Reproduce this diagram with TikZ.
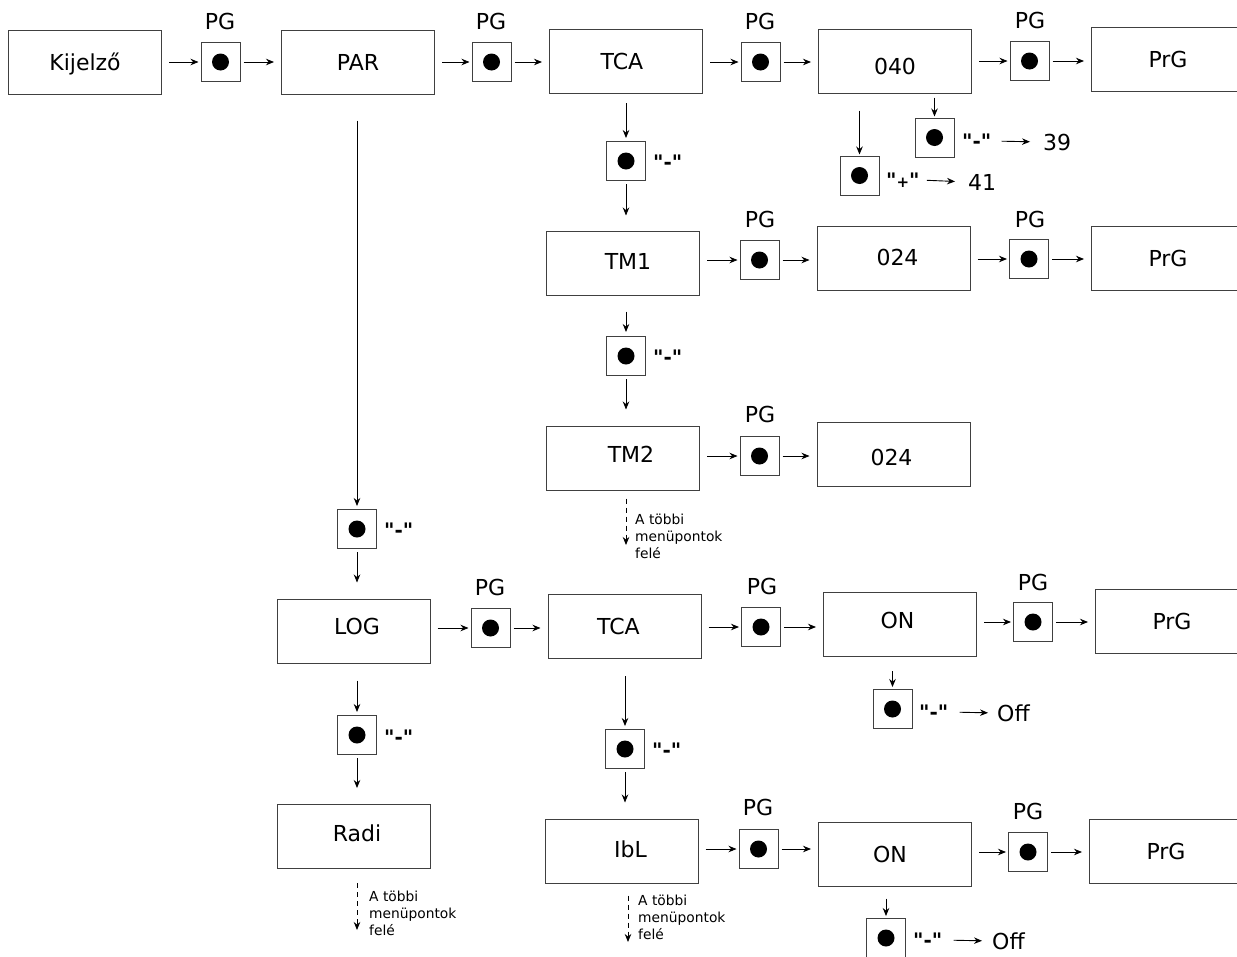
\documentclass[tikz,border=0pt]{standalone}
\usepackage{fontspec}
\setmainfont{DejaVu Sans}[Ligatures=TeXOff]
\usetikzlibrary{arrows.meta}
\newcommand\ts[3]{\raisebox{#2}{\hspace*{#1}#3\hspace*{-#1}}}
\tikzset{
 bx/.style={draw=black!75, line width=1pt, minimum width=153pt, minimum height=64pt, inner sep=0pt, font=\fontsize{22}{26}\selectfont, text height=16pt, text depth=0pt},
 dt/.style={draw=black!75, line width=1pt, minimum size=39pt, inner sep=0pt, path picture={\fill[black] (path picture bounding box.center) circle (8.5pt);}},
 pg/.style={font=\fontsize{22}{26}\selectfont, inner sep=0pt, text height=16pt, text depth=0pt},
 mi/.style={font=\fontsize{20}{24}\selectfont\bfseries, inner sep=0pt, anchor=west, text height=15pt, text depth=0pt},
 num/.style={font=\fontsize{22}{26}\selectfont, inner sep=0pt, anchor=west, text height=16pt, text depth=0pt},
 sm/.style={font=\fontsize{13.8}{17}\selectfont, align=left, anchor=north west, inner sep=0pt},
 arr/.style={-{Stealth[length=8pt,width=6.5pt]}, line width=0.9pt},
 a1/.style={arr, shorten <=7pt, shorten >=2pt},
 a2/.style={arr, shorten <=3pt, shorten >=7pt},
 dsh/.style={-{Stealth[length=8pt,width=6.5pt]}, line width=0.9pt, dash pattern=on 5pt off 4pt},
}
\begin{document}
\begin{tikzpicture}[x=1pt,y=-1pt]
\fill[white] (0,0) rectangle (1237,956);
\clip (0,0) rectangle (1237,956);
% row 1
\node[bx] (kij) at (85,62) {Kijelző};
\node[dt] (d1) at (220.5,62) {};
\node[pg] (p1) at (220,21) {PG};
\node[bx] (par) at (358,62) {PAR};
\node[dt] (d2) at (491.5,62) {};
\node[pg] (p2) at (491,21) {PG};
\node[bx] (tca) at (626,61.5) {\ts{-4pt}{0pt}{TCA}};
\node[dt] (d3) at (760.5,62) {};
\node[pg] (p3) at (760,21) {PG};
\node[bx] (b40) at (895,61) {\ts{0pt}{-5.5pt}{040}};
\node[dt] (d4) at (1029.5,61) {};
\node[pg] (p4) at (1030,20) {PG};
\node[bx] (prg1) at (1168,59) {PrG};
\draw[a1] (kij.east |- d1.west) -- (d1.west);
\draw[a2] (d1.east) -- (d1.east -| par.west);
\draw[a1] (par.east |- d2.west) -- (d2.west);
\draw[a2] (d2.east) -- (d2.east -| tca.west);
\draw[a1] (tca.east |- d3.west) -- (d3.west);
\draw[a2] (d3.east) -- (d3.east -| b40.west);
\draw[a1] (b40.east |- d4.west) -- (d4.west);
\draw[a2] (d4.east) -- (d4.east -| prg1.west);
% 040 branches
\node[dt] (m40a) at (934.5,137.5) {};
\node[mi] (q40a) at (962,141) {"-"};
\node[num] (n39) at (1043,142) {39};
\node[dt] (m40b) at (859.5,175.5) {};
\node[mi] (q40b) at (886,180) {"{\fontsize{15}{15}\selectfont +}"};
\node[num] (n41) at (968,182) {41};
\draw[arr, shorten <=4pt, shorten >=1pt] (b40.south -| m40a.north) -- (m40a.north);
\draw[arr, shorten <=17pt, shorten >=1pt] (b40.south -| m40b.north) -- (m40b.north);
\draw[arr, shorten <=10pt, shorten >=13pt] (q40a.east) -- (n39.west);
\draw[arr, shorten <=7pt, shorten >=13pt] (q40b.east) -- (n41.west);
% TCA column
\node[dt] (m1) at (626,161) {};
\node[mi] (q1) at (653,162) {"-"};
\node[bx] (tm1) at (623,263) {\ts{5pt}{2pt}{TM1}};
\draw[arr, shorten <=9pt, shorten >=3pt] (tca.south -| m1.north) -- (m1.north);
\draw[arr, shorten <=3pt, shorten >=15pt] (m1.south) -- (m1.south |- tm1.north);
\node[dt] (d5) at (759.5,260) {};
\node[pg] (p5) at (760,219) {PG};
\node[bx] (b24a) at (893.5,258.5) {\ts{4pt}{1pt}{024}};
\node[dt] (d6) at (1029,259) {};
\node[pg] (p6) at (1030,219) {PG};
\node[bx] (prg2) at (1168,258) {PrG};
\draw[a1] (tm1.east |- d5.west) -- (d5.west);
\draw[a2] (d5.east) -- (d5.east -| b24a.west);
\draw[a1] (b24a.east |- d6.west) -- (d6.west);
\draw[a2] (d6.east) -- (d6.east -| prg2.west);
\node[dt] (m2) at (626,356) {};
\node[mi] (q2) at (653,357) {"-"};
\node[bx] (tm2) at (623,458) {\ts{8pt}{4pt}{TM2}};
\draw[arr, shorten <=16pt, shorten >=4pt] (tm1.south -| m2.north) -- (m2.north);
\draw[arr, shorten <=3pt, shorten >=16pt] (m2.south) -- (m2.south |- tm2.north);
\node[dt] (d7) at (759.5,456) {};
\node[pg] (p7) at (760,414) {PG};
\node[bx] (b24b) at (893.5,454) {\ts{-2pt}{-3pt}{024}};
\draw[a1] (tm2.east |- d7.west) -- (d7.west);
\draw[a2] (d7.east) -- (d7.east -| b24b.west);
\coordinate (e1) at (626,545);
\draw[dsh, shorten <=8pt] (e1 |- tm2.south) -- (e1);
\node[sm] (t1) at (635,514) {A többi\\menüpontok\\felé};
% PAR column
\node[dt] (m10) at (357,529) {};
\node[mi] (q10) at (384,530) {"-"};
\node[bx] (log) at (353.5,631) {\ts{3.5pt}{4.5pt}{LOG}};
\draw[arr, shorten <=26pt, shorten >=3pt] (m10.north |- par.south) -- (m10.north);
\draw[arr, shorten <=3pt, shorten >=16pt] (m10.south) -- (m10.south |- log.north);
\node[dt] (d8) at (490.5,628) {};
\node[pg] (p8) at (490,587) {PG};
\node[bx] (tca2) at (624.5,626.5) {\ts{-6pt}{0pt}{TCA}};
\node[dt] (d9) at (761,627) {};
\node[pg] (p9) at (762,586) {PG};
\node[bx] (on1) at (900,624.5) {\ts{-2.5pt}{4pt}{ON}};
\node[dt] (d11) at (1033,622) {};
\node[pg] (p11) at (1033,582) {PG};
\node[bx] (prg3) at (1172,621) {PrG};
\draw[a1] (log.east |- d8.west) -- (d8.west);
\draw[a2] (d8.east) -- (d8.east -| tca2.west);
\draw[a1] (tca2.east |- d9.west) -- (d9.west);
\draw[a2] (d9.east) -- (d9.east -| on1.west);
\draw[a1] (on1.east |- d11.west) -- (d11.west);
\draw[a2] (d11.east) -- (d11.east -| prg3.west);
\node[dt] (m11) at (892.5,709) {};
\node[mi] (q11) at (919,712) {"-"};
\node[num] (off1) at (997,713) {Off};
\draw[arr, shorten <=14pt, shorten >=2pt] (on1.south -| m11.north) -- (m11.north);
\draw[arr, shorten <=11pt, shorten >=9pt] (q11.east) -- (off1.west);
% LOG column
\node[dt] (m12) at (357,735) {};
\node[mi] (q12) at (384,737) {"-"};
\node[bx] (radi) at (353.5,836.5) {\ts{3.5pt}{3.5pt}{Radi}};
\draw[arr, shorten <=17pt, shorten >=3pt] (log.south -| m12.north) -- (m12.north);
\draw[arr, shorten <=3pt, shorten >=16pt] (m12.south) -- (m12.south |- radi.north);
\coordinate (e2) at (357,930);
\draw[dsh, shorten <=14pt] (e2 |- radi.south) -- (e2);
\node[sm] (t2) at (369,891) {A többi\\menüpontok\\felé};
% TCA2 column
\node[dt] (m13) at (625,749) {};
\node[mi] (q13) at (652,750) {"-"};
\node[bx] (ibl) at (621.5,851) {\ts{9pt}{2pt}{IbL}};
\draw[arr, shorten <=17pt, shorten >=3pt] (tca2.south -| m13.north) -- (m13.north);
\draw[arr, shorten <=3pt, shorten >=16pt] (m13.south) -- (m13.south |- ibl.north);
\node[dt] (d12) at (758.5,849) {};
\node[pg] (p12) at (758,807) {PG};
\node[bx] (on2) at (895,854) {\ts{-5pt}{0pt}{ON}};
\node[dt] (d13) at (1028,852) {};
\node[pg] (p13) at (1028,811) {PG};
\node[bx] (prg4) at (1166,851) {PrG};
\draw[a1] (ibl.east |- d12.west) -- (d12.west);
\draw[a2] (d12.east) -- (d12.east -| on2.west);
\draw[a1] (on2.east |- d13.west) -- (d13.west);
\draw[a2] (d13.east) -- (d13.east -| prg4.west);
\node[dt] (m14) at (886,938) {};
\node[mi] (q14) at (913,940) {"-"};
\node[num] (off2) at (992,941) {Off};
\draw[arr, shorten <=12pt, shorten >=2pt] (on2.south -| m14.north) -- (m14.north);
\draw[arr, shorten <=11pt, shorten >=10pt] (q14.east) -- (off2.west);
\coordinate (e3) at (628,942);
\draw[dsh, shorten <=12pt] (e3 |- ibl.south) -- (e3);
\node[sm] (t3) at (638,895) {A többi\\menüpontok\\felé};
\end{tikzpicture}
\end{document}
